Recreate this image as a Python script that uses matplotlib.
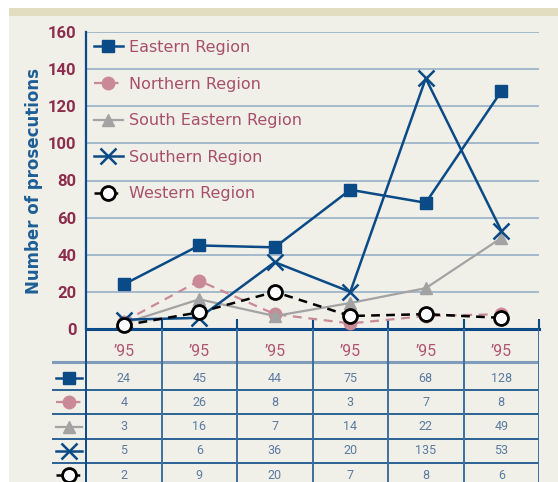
import matplotlib.pyplot as plt
from matplotlib.lines import Line2D
from matplotlib.patches import Rectangle

# data
categories = ["’95", "’95", "’95", "’95", "’95", "’95"]
regions = ["Eastern Region", "Northern Region", "South Eastern Region",
           "Southern Region", "Western Region"]
eastern = [24, 45, 44, 75, 68, 128]
northern = [4, 26, 8, 3, 7, 8]
south_eastern = [3, 16, 7, 14, 22, 49]
southern = [5, 6, 36, 20, 135, 53]
western = [2, 9, 20, 7, 8, 6]
y_ticks = [0, 20, 40, 60, 80, 100, 120, 140, 160]

series = [eastern, northern, south_eastern, southern, western]

BLUE = "#0a4a86"
NARROW = ["Roboto", "DejaVu Sans"]
styles = [
    dict(color=BLUE, ls="-", lw=1.8, marker="s", ms=9, mfc=BLUE, mec=BLUE),
    dict(color="#c98a96", ls=(0, (4, 3)), lw=1.6, marker="o", ms=9, mfc="#c98a96", mec="#c98a96"),
    dict(color="#a3a3a3", ls="-", lw=1.6, marker="^", ms=9, mfc="#a3a3a3", mec="#a3a3a3"),
    dict(color=BLUE, ls="-", lw=1.8, marker="x", ms=11, mew=1.8, mec=BLUE),
    dict(color="black", ls=(0, (3.5, 2.5)), lw=1.8, marker="o", ms=10, mfc="white", mec="black", mew=2),
]

W, H = 558, 482
fig = plt.figure(figsize=(W / 100, H / 100), dpi=100, facecolor="white")

# panel background
fig.patches.append(Rectangle((9 / W, 0), 1, 1 - 16 / H, transform=fig.transFigure,
                             facecolor="#f0efe8", edgecolor="none", zorder=-10))
fig.patches.append(Rectangle((9 / W, 1 - 16 / H), 1, 8 / H, transform=fig.transFigure,
                             facecolor="#e2dcc0", edgecolor="none", zorder=-10))

x0, x1 = 86, 539
y_top, y_bot = 32, 329
n = len(categories)
ax = fig.add_axes([x0 / W, 1 - y_bot / H, (x1 - x0) / W, (y_bot - y_top) / H])
ax.set_facecolor("none")
xs = list(range(n))

for data, st, name in zip(series, styles, regions):
    ax.plot(xs, data, label=name, clip_on=False, zorder=3, **st)

ax.set_xlim(-0.5, n - 0.5)
ax.set_ylim(0, 160)
ax.set_yticks(y_ticks)
ax.yaxis.grid(True, color="#9fb5cc", lw=1.3)
ax.set_axisbelow(True)
ax.tick_params(axis="y", length=0, pad=7, labelcolor="#8c2d4e")
for lab in ax.get_yticklabels():
    lab.set_fontweight("bold")
    lab.set_family(NARROW)
    lab.set_fontsize(12)

ax.set_xticks(xs)
ax.set_xticklabels(categories, family=NARROW)
ax.set_xticks([i + 0.5 for i in range(n)], minor=True)
ax.tick_params(axis="x", which="major", length=0, pad=11, labelsize=11.5, labelcolor="#b0566e")
ax.tick_params(axis="x", which="minor", direction="in", length=7, width=1.5, color=BLUE)

for s in ["top", "right"]:
    ax.spines[s].set_visible(False)
ax.spines["left"].set_color(BLUE)
ax.spines["left"].set_linewidth(1.6)
ax.spines["bottom"].set_color(BLUE)
ax.spines["bottom"].set_linewidth(2.2)

ax.set_ylabel("Number of prosecutions", fontsize=12, fontweight="bold", color="#1d5e96", labelpad=3)

leg = ax.legend(loc="upper left", bbox_to_anchor=(0.0, 1.0), frameon=False, fontsize=11.5,
                handlelength=1.8, handletextpad=0.4, labelspacing=1.35, borderaxespad=0.3,
                borderpad=0.2)
for t in leg.get_texts():
    t.set_color("#a8506a")

# data table below the plot
tl = 52
row_h = 24.3
tax = fig.add_axes([tl / W, 0, (x1 - tl) / W, 1 - y_bot / H])
tax.set_facecolor("none")
left_edge = -0.5 - (x0 - tl) / ((x1 - x0) / n)
tax.set_xlim(left_edge, n - 0.5)
top_rows = (378 - y_bot) / row_h
bot_rows = (H - 378) / row_h
tax.set_ylim(bot_rows, -top_rows)
tax.axis("off")

tax.plot([left_edge, n - 0.5], [-0.65, -0.65], color="#7f9cba", lw=2.2)
for r in range(1, len(series)):
    tax.plot([left_edge, n - 0.5], [r - 0.5, r - 0.5], color=BLUE, lw=1.2)
for i in range(n + 1):
    tax.plot([i - 0.5, i - 0.5], [-top_rows, bot_rows], color=BLUE if i == 0 else "#3f6e9e", lw=1.4)

mx = (left_edge - 0.5) / 2
for r, (data, st) in enumerate(zip(series, styles)):
    st2 = dict(st)
    tax.add_line(Line2D([left_edge + 0.05, -0.55], [r, r], **{k: v for k, v in st2.items() if k not in ("marker", "ms", "mfc", "mec", "mew")}))
    tax.plot([mx], [r], **{k: v for k, v in st2.items() if k != "ls"}, ls="none")
    for i, v in enumerate(data):
        tax.text(i, r, str(v), ha="center", va="center", fontsize=9, family=NARROW, color="#5a7ba2")

fig.savefig("out.png", dpi=100, facecolor=fig.get_facecolor())
